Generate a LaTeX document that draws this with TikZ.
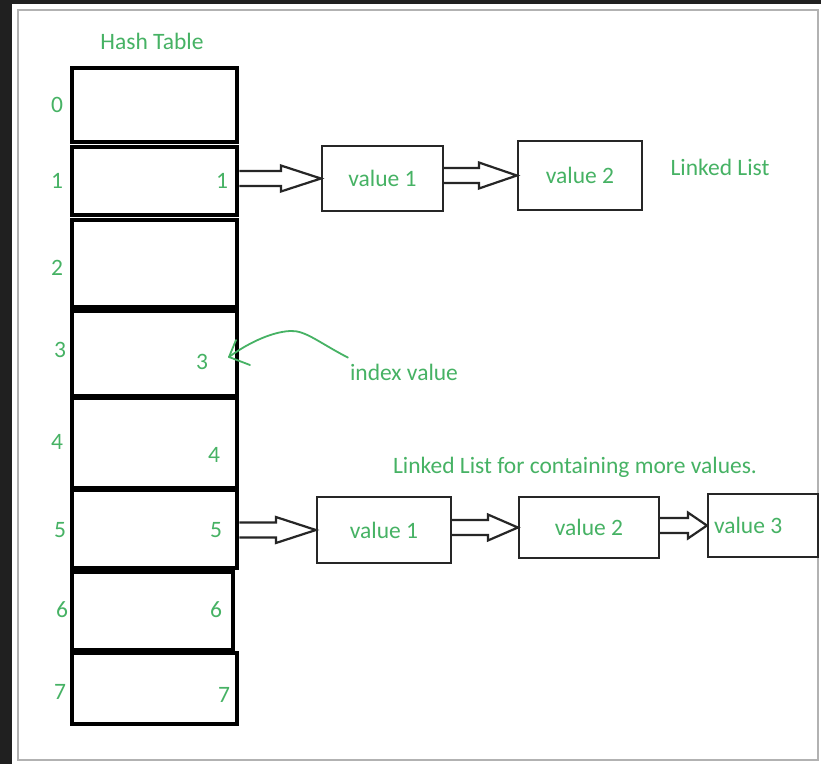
\documentclass[tikz,border=0pt]{standalone}
\usepackage{fontspec}
\setmainfont{Carlito}
\usetikzlibrary{calc}
\definecolor{lbl}{RGB}{70,178,100}
\definecolor{dark}{RGB}{32,32,32}
\newcommand\blockarrow[3]{%
  \draw[harrow] let \p1=(#1), \p2=(#2) in
    (\x1,\y2+7.5pt) -- (\x2-#3,\y2+7.5pt) -- (\x2-#3,\y2+13pt) -- (\x2,\y2)
    -- (\x2-#3,\y2-13pt) -- (\x2-#3,\y2-7.5pt) -- (\x1,\y2-7.5pt);}
\begin{document}
\begin{tikzpicture}[x=1pt,y=-1pt,
  cell/.style={draw=black,line width=4.5pt,inner sep=0pt,minimum width=165pt},
  valbox/.style={draw=black!85,line width=2.2pt,inner sep=0pt,text=lbl,font=\fontsize{23.5}{27}\selectfont},
  lbltext/.style={text=lbl,inner sep=0pt,font=\fontsize{23.5}{27}\selectfont},
  harrow/.style={draw=black!85,line width=2.2pt,line join=miter},
  curvearrow/.style={draw=lbl,line width=1.8pt,line cap=round}]
\useasboundingbox (0,0) rectangle (821,764);
\fill[dark] (0,0) rectangle (821,764);
\fill[white] (12,4) rectangle (821,764);
\draw[black!30,line width=1.8pt] (18,10) rectangle (818,760);

% hash table cells
\node[cell,minimum height=74pt] (c0) at (154.5,105) {};
\node[cell,minimum height=68pt] (c1) at (154.5,181) {};
\node[cell,minimum height=87pt] (c2) at (154.5,263.5) {};
\node[cell,minimum height=85pt] (c3) at (154.5,353.5) {};
\node[cell,minimum height=90pt] (c4) at (154.5,443) {};
\node[cell,minimum height=78pt] (c5) at (154.5,529) {};
\node[cell,minimum height=78pt,minimum width=161pt] (c6) at (152.5,611) {};
\node[cell,minimum height=71pt] (c7) at (154.5,688.5) {};

% titles
\node[lbltext] (title) at (152,41) {Hash Table};
\node[lbltext] (ll1) at (720,167) {Linked List};
\node[lbltext] (ll2) at (575,467) {Linked List for containing more values.};
\node[lbltext] (idx) at (404,372) {index value};

% left indices
\node[lbltext] (i0) at (57,105) {0};
\node[lbltext] (i1) at (57,181) {1};
\node[lbltext] (i2) at (57,268) {2};
\node[lbltext] (i3) at (60,350) {3};
\node[lbltext] (i4) at (57,442) {4};
\node[lbltext] (i5) at (60,530) {5};
\node[lbltext] (i6) at (62,610) {6};
\node[lbltext] (i7) at (60,692) {7};

% right indices
\node[lbltext] (r1) at (222,181) {1};
\node[lbltext] (r3) at (202,362) {3};
\node[lbltext] (r4) at (214,455) {4};
\node[lbltext] (r5) at (216,530) {5};
\node[lbltext] (r6) at (216,610) {6};
\node[lbltext] (r7) at (224,695) {7};

% value boxes
\node[valbox,minimum width=121pt,minimum height=65pt] (v11) at (382.5,178.5) {value 1};
\node[valbox,minimum width=124pt,minimum height=69pt] (v12) at (580,175.5) {value 2};
\node[valbox,minimum width=134pt,minimum height=66pt] (v21) at (384,530) {value 1};
\node[valbox,minimum width=140pt,minimum height=61pt] (v22) at (589,527.5) {value 2};
\node[valbox,minimum width=110pt,minimum height=63pt] (v23) at (763,525.5) {\makebox[98pt][l]{value 3}};

% block arrows
\blockarrow{c1.east}{v11.west}{40pt}
\blockarrow{v11.east}{v12.west}{38pt}
\blockarrow{c5.east}{v21.west}{40pt}
\blockarrow{v21.east}{v22.west}{30pt}
\blockarrow{v22.east}{v23.west}{19pt}

% index value pointer
\coordinate (tip) at (229,357);
\draw[curvearrow] (idx.north west) ++(-2,-6)
   .. controls (318,342) and (305,330) .. (290,331)
   .. controls (270,332) and (245,345) .. (tip);
\draw[curvearrow] (tip) -- (236,340);
\draw[curvearrow] (tip) -- (250,365);
\end{tikzpicture}
\end{document}
